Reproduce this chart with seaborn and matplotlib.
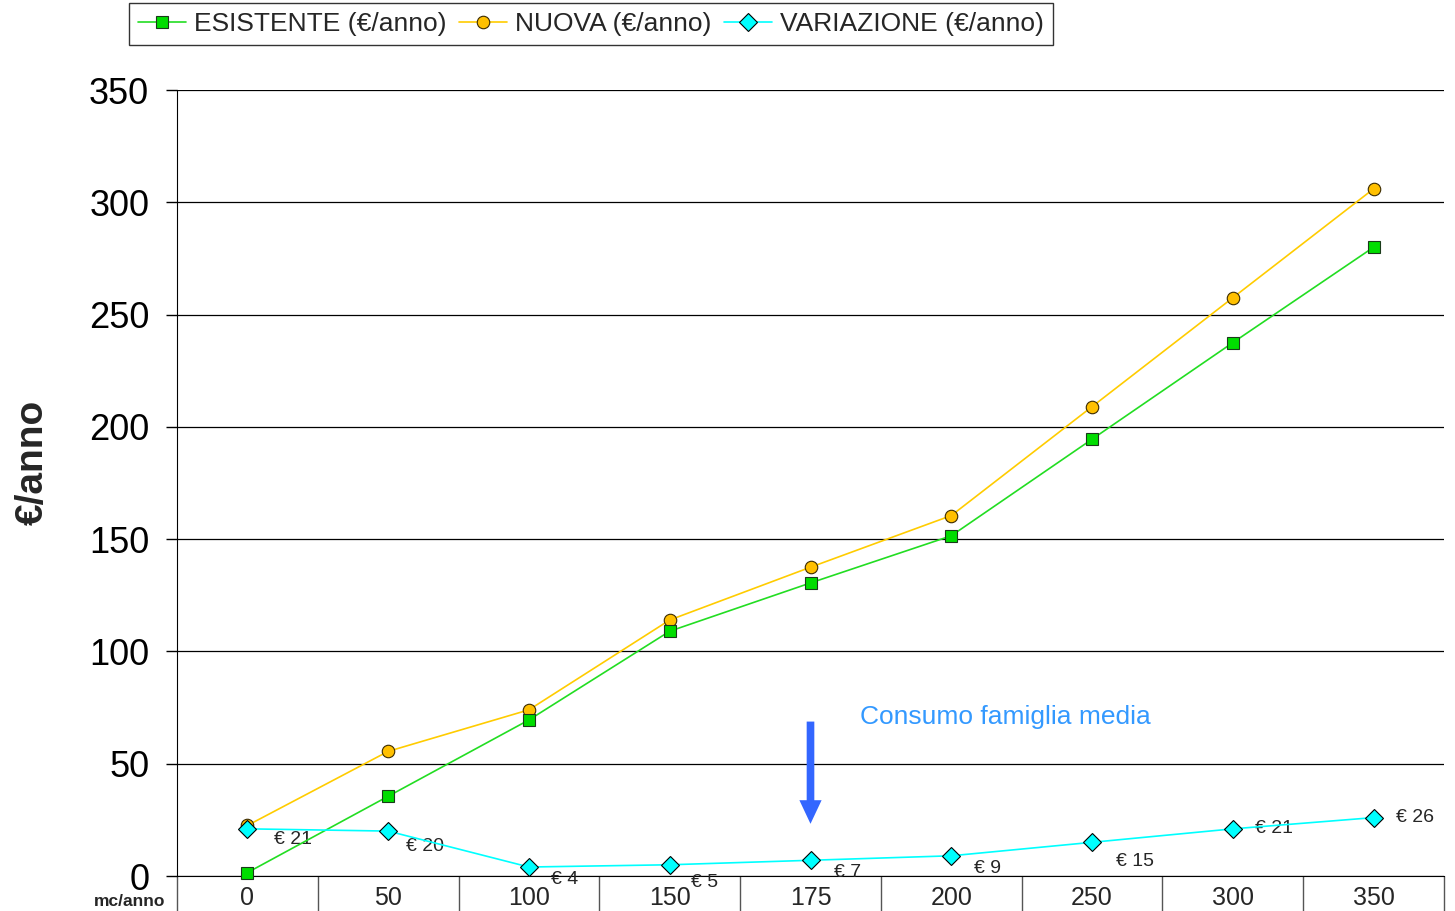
import numpy as np
import pandas as pd
import seaborn as sns
from matplotlib import pyplot as plt

sns.set_style("white")
plt.rcParams['font.family'] = ['Liberation Sans', 'DejaVu Sans']

categorie = ['0', '50', '100', '150', '175', '200', '250', '300', '350']
esistente = [1.5, 35.5, 69.5, 109, 130.5, 151.5, 194.5, 237.5, 280]
nuova = [22.5, 55.5, 74, 114, 137.5, 160.5, 209, 257.5, 306]
variazione = [21, 20, 4, 5, 7, 9, 15, 21, 26]
etichette = ['€ 21', '€ 20', '€ 4', '€ 5', '€ 7', '€ 9', '€ 15', '€ 21', '€ 26']

# offset delle etichette (punti)
offset = [(19, -8), (13, -11), (16, -9), (15, -13), (17, -9), (16, -9), (17, -14), (16, 0), (16, 0)]

pos = np.arange(len(categorie))
df = pd.DataFrame({'x': pos, 'esistente': esistente, 'nuova': nuova, 'variazione': variazione})

fig = plt.figure(figsize=(14.55, 9.11), dpi=100)
ax = fig.add_axes([177/1455, 35/911, 1267/1455, 786/911])

sns.lineplot(data=df, x='x', y='esistente', ax=ax, color='#22DD22', lw=1.2, marker='s',
             markersize=9, markerfacecolor='#00DD00', markeredgecolor='#1a3a1a', markeredgewidth=0.8,
             label='ESISTENTE (€/anno)', clip_on=False, zorder=4)
sns.lineplot(data=df, x='x', y='nuova', ax=ax, color='#FFCC00', lw=1.2, marker='o',
             markersize=9, markerfacecolor='#FFC000', markeredgecolor='#3a2a00', markeredgewidth=0.8,
             label='NUOVA (€/anno)', clip_on=False, zorder=3)
sns.lineplot(data=df, x='x', y='variazione', ax=ax, color='#00FFFF', lw=1.2, marker='D',
             markersize=9, markerfacecolor='#00FFFF', markeredgecolor='black', markeredgewidth=0.8,
             label='VARIAZIONE (€/anno)', clip_on=False, zorder=5)

for i, (v, t) in enumerate(zip(variazione, etichette)):
    ax.annotate(t, (pos[i], v), xytext=offset[i], textcoords='offset points',
                ha='left', va='center', fontsize=14)

ax.set_xlim(-0.5, len(categorie) - 0.5)
ax.set_ylim(0, 350)
ax.set_yticks(np.arange(0, 351, 50))
ax.tick_params(axis='y', left=True, labelsize=26, length=8, width=1, direction='out', pad=12, colors='black')
ax.yaxis.grid(True, color='black', lw=0.9)
ax.set_axisbelow(True)

ax.set_xticks(np.arange(len(categorie) + 1) - 0.5)
ax.set_xticklabels([])
ax.tick_params(axis='x', which='major', bottom=True, length=40, width=1, color='#555555', direction='out')
ax.set_xticks(pos, minor=True)
ax.set_xticklabels(categorie, minor=True)
ax.tick_params(axis='x', which='minor', bottom=True, length=0, labelsize=18, pad=7)

for s in ['top', 'right']:
    ax.spines[s].set_visible(False)
ax.spines['left'].set_color('black')
ax.spines['bottom'].set_color('black')
ax.set_xlabel('')
ax.set_ylabel('')

# freccia consumo medio
ax.annotate('', xy=(4, 22), xytext=(4, 70),
            arrowprops=dict(arrowstyle='simple,head_width=1.6,head_length=1.7,tail_width=0.55',
                            color='#3366FF', lw=0))
ax.text(4.35, 71, 'Consumo famiglia media', color='#3399FF', fontsize=19, va='center', ha='left')

fig.text(33/1455, 0.493, '€/anno', rotation=90, fontsize=28, fontweight='bold', ha='center', va='center')
fig.text(130/1455, 1 - 902/911, 'mc/anno', fontsize=12.5, fontweight='bold', ha='center', va='center')

ax.get_legend().remove()
h, l = ax.get_legend_handles_labels()
leg = fig.legend(h, l, loc='upper center', bbox_to_anchor=(591/1455, 0.997), ncol=3, fontsize=19,
                 frameon=True, fancybox=False, edgecolor='black', handlelength=1.8,
                 handletextpad=0.3, columnspacing=0.5, borderpad=0.35, borderaxespad=0)
leg.get_frame().set_linewidth(1)

fig.savefig('out.png', dpi=100, facecolor='white')
